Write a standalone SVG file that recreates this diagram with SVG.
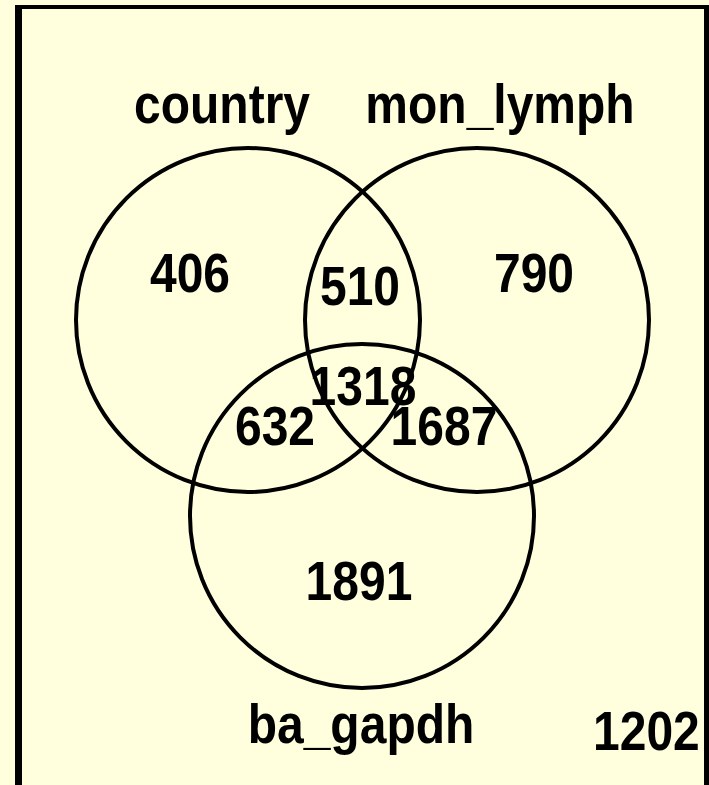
<svg xmlns="http://www.w3.org/2000/svg" width="709" height="785" viewBox="0 0 709 785">
<style>
.c{fill:none;stroke:#000;stroke-width:4}
.t{font-family:"Liberation Sans",Arial,Helvetica,sans-serif;font-weight:bold;font-size:48px;fill:#000;text-anchor:middle}
.s{text-anchor:start}
</style>
<rect x="0" y="0" width="709" height="785" fill="#FFFFDD"/>
<g id="country">
<circle class="c" cx="248" cy="320" r="172"/>
<text class="t" transform="translate(222,123) scale(1,1.15)">country</text>
</g>
<g id="mon_lymph">
<circle class="c" cx="477" cy="320" r="172"/>
<text class="t" transform="translate(500,123) scale(1,1.15)">mon_lymph</text>
</g>
<g id="ba_gapdh">
<circle class="c" cx="362" cy="516" r="172"/>
<text class="t" transform="translate(361,743) scale(1,1.15)">ba_gapdh</text>
</g>
<g id="counts">
<text class="t" transform="translate(190,292) scale(1,1.15)">406</text>
<text class="t" transform="translate(360,305) scale(1,1.15)">510</text>
<text class="t" transform="translate(534,292) scale(1,1.15)">790</text>
<text class="t" transform="translate(363,405) scale(1,1.15)">1318</text>
<text class="t" transform="translate(275,445) scale(1,1.15)">632</text>
<text class="t" transform="translate(444,445) scale(1,1.15)">1687</text>
<text class="t" transform="translate(359,600) scale(1,1.15)">1891</text>
<text class="t s" transform="translate(593,750) scale(1,1.15)">1202</text>
</g>
<g id="frame" stroke="#000" fill="none">
<line x1="18.5" y1="5" x2="18.5" y2="785" stroke-width="7"/>
<line x1="15" y1="7" x2="709" y2="7" stroke-width="4"/>
<line x1="706.5" y1="5" x2="706.5" y2="785" stroke-width="5"/>
</g>
</svg>
